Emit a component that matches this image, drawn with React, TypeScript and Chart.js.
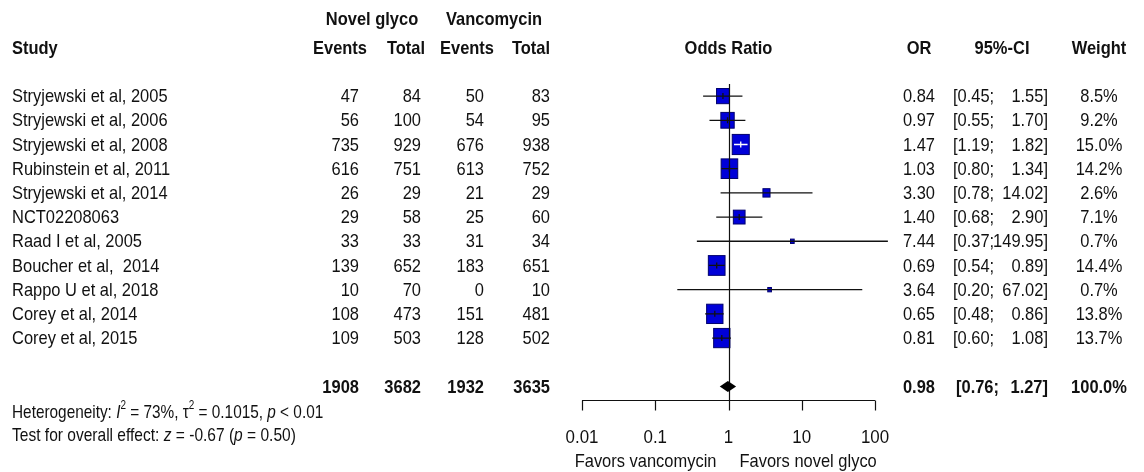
import React, { useEffect, useRef } from "react";
import { Chart, registerables } from "chart.js";
Chart.register(...registerables);

const studies = [
  "Stryjewski et al, 2005",
  "Stryjewski et al, 2006",
  "Stryjewski et al, 2008",
  "Rubinstein et al, 2011",
  "Stryjewski et al, 2014",
  "NCT02208063",
  "Raad I et al, 2005",
  "Boucher et al,  2014",
  "Rappo U et al, 2018",
  "Corey et al, 2014",
  "Corey et al, 2015",
];
const eventsNovel = [47, 56, 735, 616, 26, 29, 33, 139, 10, 108, 109];
const totalNovel = [84, 100, 929, 751, 29, 58, 33, 652, 70, 473, 503];
const eventsVanco = [50, 54, 676, 613, 21, 25, 31, 183, 0, 151, 128];
const totalVanco = [83, 95, 938, 752, 29, 60, 34, 651, 10, 481, 502];
const oddsRatio = [0.84, 0.97, 1.47, 1.03, 3.3, 1.4, 7.44, 0.69, 3.64, 0.65, 0.81];
const ciLower = [0.45, 0.55, 1.19, 0.8, 0.78, 0.68, 0.37, 0.54, 0.2, 0.48, 0.6];
const ciUpper = [1.55, 1.7, 1.82, 1.34, 14.02, 2.9, 149.95, 0.89, 67.02, 0.86, 1.08];
const weights = [8.5, 9.2, 15.0, 14.2, 2.6, 7.1, 0.7, 14.4, 0.7, 13.8, 13.7];

const pooledTotals = [1908, 3682, 1932, 3635];
const pooledOR = 0.98;
const pooledLower = 0.76;
const pooledUpper = 1.27;
const pooledWeight = 100.0;

const xTicks = [0.01, 0.1, 1, 10, 100];
const xTickLabels = ["0.01", "0.1", "1", "10", "100"];

const FONT = '"Liberation Sans", Arial, Helvetica, sans-serif';
const SX = 0.89;
const FS = 18.5;
const INK = "#111";

type Seg = { t: string; italic?: boolean; sup?: boolean };

function txt(ctx: CanvasRenderingContext2D, s: string, x: number, y: number, align: CanvasTextAlign, bold = false, size = FS) {
  ctx.save();
  ctx.font = `${bold ? "bold " : ""}${size}px ${FONT}`;
  ctx.fillStyle = INK;
  ctx.textBaseline = "middle";
  ctx.textAlign = align;
  ctx.translate(x, y);
  ctx.scale(SX, 1);
  ctx.fillText(s, 0, 0);
  ctx.restore();
}

function rich(ctx: CanvasRenderingContext2D, segs: Seg[], x: number, y: number, sx: number) {
  let cx = x;
  for (const sg of segs) {
    ctx.save();
    const size = sg.sup ? 12 : FS;
    ctx.font = `${sg.italic ? "italic " : ""}${size}px ${FONT}`;
    ctx.fillStyle = INK;
    ctx.textBaseline = "middle";
    ctx.textAlign = "left";
    ctx.translate(cx, sg.sup ? y - 7 : y);
    ctx.scale(sx, 1);
    ctx.fillText(sg.t, 0, 0);
    const w = ctx.measureText(sg.t).width * sx;
    ctx.restore();
    cx += w;
  }
}

const heterogeneity: Seg[] = [
  { t: "Heterogeneity: " },
  { t: "I", italic: true },
  { t: "2", sup: true },
  { t: " = 73%, \u03C4" },
  { t: "2", sup: true },
  { t: " = 0.1015, " },
  { t: "p", italic: true },
  { t: " < 0.01" },
];
const overall: Seg[] = [
  { t: "Test for overall effect: " },
  { t: "z", italic: true },
  { t: " = -0.67 (" },
  { t: "p", italic: true },
  { t: " = 0.50)" },
];

export default function App() {
  const ref = useRef<HTMLCanvasElement>(null);
  useEffect(() => {
    if (!ref.current) return;
    const forest = {
      id: "forest",
      afterDraw(chart: any) {
        const ctx: CanvasRenderingContext2D = chart.ctx;
        const xs = chart.scales.x;
        const ys = chart.scales.y;
        const area = chart.chartArea;
        const X = (v: number) => xs.getPixelForValue(v);
        const Y = (i: number) => ys.getPixelForValue(i);

        // headers
        txt(ctx, "Novel glyco", 372, 20, "center", true);
        txt(ctx, "Vancomycin", 494, 20, "center", true);
        txt(ctx, "Study", 12, 49, "left", true);
        txt(ctx, "Events", 340, 49, "center", true);
        txt(ctx, "Total", 406, 49, "center", true);
        txt(ctx, "Events", 467, 49, "center", true);
        txt(ctx, "Total", 531, 49, "center", true);
        txt(ctx, "Odds Ratio", (area.left + area.right) / 2, 49, "center", true);
        txt(ctx, "OR", 919, 49, "center", true);
        txt(ctx, "95%-CI", 1002, 49, "center", true);
        txt(ctx, "Weight", 1099, 49, "center", true);

        // study rows (text)
        studies.forEach((s, i) => {
          const y = Y(i) + 1;
          txt(ctx, s, 12, y, "left");
          txt(ctx, String(eventsNovel[i]), 359, y, "right");
          txt(ctx, String(totalNovel[i]), 421, y, "right");
          txt(ctx, String(eventsVanco[i]), 484, y, "right");
          txt(ctx, String(totalVanco[i]), 550, y, "right");
          txt(ctx, oddsRatio[i].toFixed(2), 935, y, "right");
          txt(ctx, `[${ciLower[i].toFixed(2)};`, 953, y, "left");
          txt(ctx, `${ciUpper[i].toFixed(2)}]`, 1048, y, "right");
          txt(ctx, `${weights[i].toFixed(1)}%`, 1099, y, "center");
        });

        // pooled row
        const py = Y(12);
        const cols = [359, 421, 484, 550];
        pooledTotals.forEach((v, k) => txt(ctx, String(v), cols[k], py + 1, "right", true));
        txt(ctx, pooledOR.toFixed(2), 935, py + 1, "right", true);
        txt(ctx, `[${pooledLower.toFixed(2)};`, 956, py + 1, "left", true);
        txt(ctx, `${pooledUpper.toFixed(2)}]`, 1048, py + 1, "right", true);
        txt(ctx, `${pooledWeight.toFixed(1)}%`, 1099, py + 1, "center", true);

        rich(ctx, heterogeneity, 12, 413, 0.83);
        rich(ctx, overall, 12, 436, 0.84);

        // squares
        studies.forEach((_, i) => {
          const cx = X(oddsRatio[i]);
          const cy = Y(i);
          const sw = 4.4 * Math.sqrt(weights[i]);
          const sh = 5.2 * Math.sqrt(weights[i]);
          ctx.save();
          ctx.fillStyle = "#0000d8";
          ctx.strokeStyle = "#00006e";
          ctx.lineWidth = 1;
          ctx.fillRect(cx - sw / 2, cy - sh / 2, sw, sh);
          ctx.strokeRect(cx - sw / 2, cy - sh / 2, sw, sh);
          ctx.restore();
        });

        // reference line at OR = 1
        ctx.save();
        ctx.strokeStyle = INK;
        ctx.lineWidth = 1.2;
        ctx.beginPath();
        ctx.moveTo(Math.round(X(1)) + 0.5, area.top);
        ctx.lineTo(Math.round(X(1)) + 0.5, area.bottom);
        ctx.stroke();
        ctx.restore();

        // CI lines
        studies.forEach((_, i) => {
          const cx = X(oddsRatio[i]);
          const cy = Y(i);
          const sw = 4.4 * Math.sqrt(weights[i]);
          const lo = X(ciLower[i]);
          const hi = X(ciUpper[i]);
          const inside = lo > cx - sw / 2 + 1.5 && hi < cx + sw / 2 - 1.5;
          ctx.save();
          ctx.strokeStyle = inside ? "#ffffff" : INK;
          ctx.lineWidth = 1.3;
          ctx.beginPath();
          ctx.moveTo(lo, cy);
          ctx.lineTo(hi, cy);
          if (weights[i] > 5) {
            ctx.moveTo(cx, cy - 3);
            ctx.lineTo(cx, cy + 3);
          }
          ctx.stroke();
          ctx.restore();
        });

        // diamond
        ctx.save();
        ctx.fillStyle = "#000";
        ctx.beginPath();
        ctx.moveTo(X(pooledLower), py);
        ctx.lineTo(X(pooledOR), py - 5.5);
        ctx.lineTo(X(pooledUpper), py);
        ctx.lineTo(X(pooledOR), py + 5.5);
        ctx.closePath();
        ctx.fill();
        ctx.restore();

        // x axis
        const ay = area.bottom + 0.5;
        ctx.save();
        ctx.strokeStyle = INK;
        ctx.lineWidth = 1.2;
        ctx.beginPath();
        ctx.moveTo(X(xTicks[0]), ay);
        ctx.lineTo(X(xTicks[xTicks.length - 1]), ay);
        xTicks.forEach((t) => {
          const tx = Math.round(X(t)) + 0.5;
          ctx.moveTo(tx, ay);
          ctx.lineTo(tx, ay + 10);
        });
        ctx.stroke();
        ctx.restore();
        xTicks.forEach((t, k) => txt(ctx, xTickLabels[k], X(t), ay + 37, "center", false, 19));
        txt(ctx, "Favors vancomycin", X(1) - 12, ay + 61, "right");
        txt(ctx, "Favors novel glyco", X(1) + 11, ay + 61, "left");
      },
    };

    const chart = new Chart(ref.current, {
      type: "scatter",
      data: {
        datasets: [
          {
            data: oddsRatio.map((v, i) => ({ x: v, y: i })),
            pointRadius: 0,
            showLine: false,
          },
        ],
      },
      options: {
        responsive: false,
        animation: false,
        events: [],
        layout: { padding: { left: 582, right: 269, top: 84, bottom: 72 } },
        scales: {
          x: { type: "logarithmic", min: 0.01, max: 100, display: false },
          y: { type: "linear", min: -0.5, max: 12.56, reverse: true, display: false },
        },
        plugins: { legend: { display: false }, tooltip: { enabled: false } },
      },
      plugins: [forest],
    } as any);
    return () => chart.destroy();
  }, []);

  return (
    <div style={{ position: "fixed", left: 0, top: 0, width: 1144, height: 472, background: "#fff" }}>
      <canvas ref={ref} width={1144} height={472} style={{ width: 1144, height: 472, display: "block" }} />
    </div>
  );
}
